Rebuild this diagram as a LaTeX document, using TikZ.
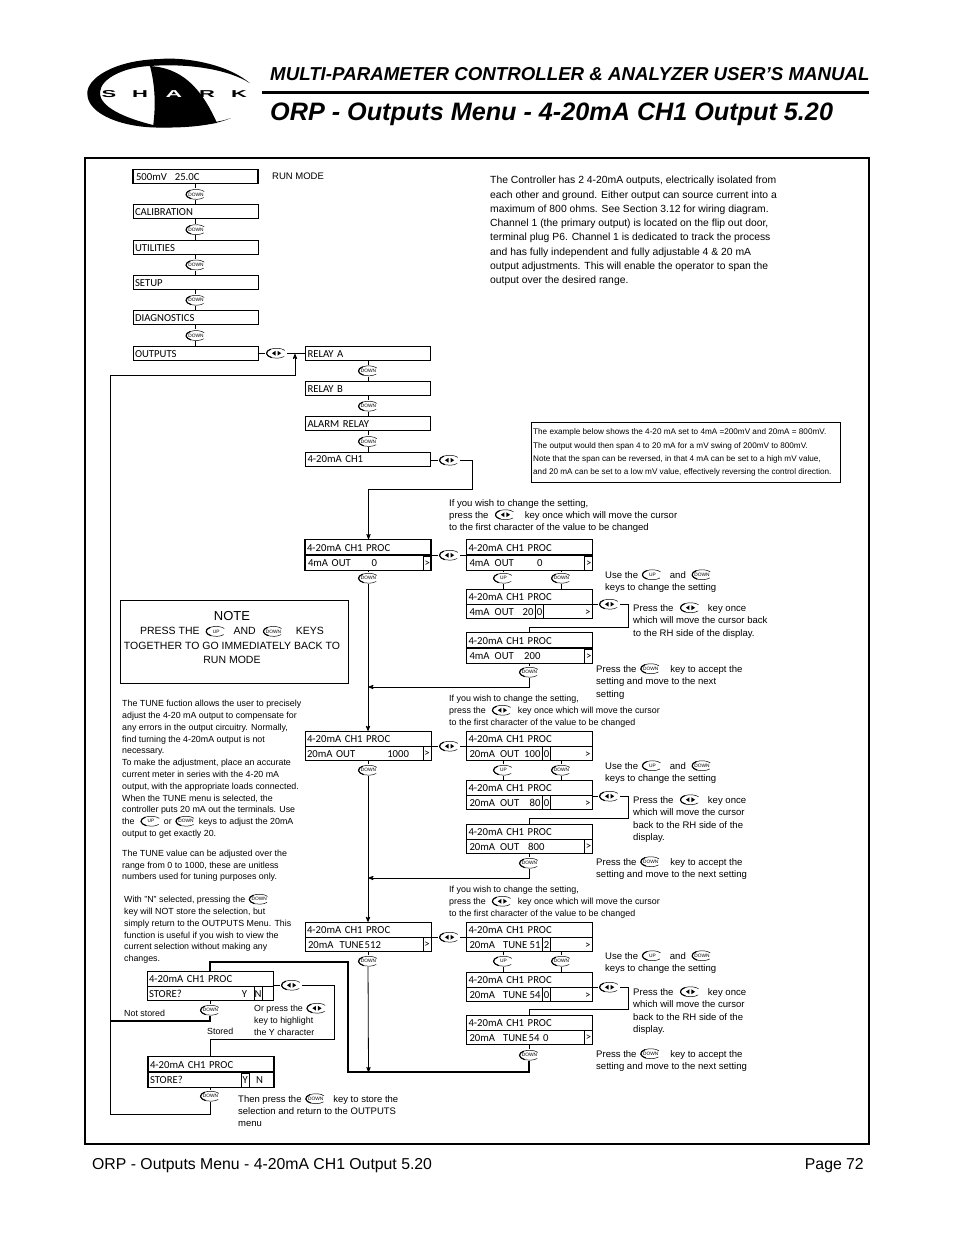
\documentclass[tikz,border=0pt]{standalone}
\usepackage{fontspec}
\setmainfont{Liberation Sans}
\newfontfamily\lcdfont{Carlito}
\usetikzlibrary{calc,positioning,arrows,shapes.multipart}

\newcommand{\keyface}[1]{\tikz[baseline=-3.4pt,x=1pt,y=1pt]{%
  \path (-10.5,-5.5) rectangle (10.5,5.5);
  \draw[line width=.5pt] (35:10 and 5) arc[start angle=35,end angle=320,x radius=10,y radius=5];
  \draw[line width=1.1pt] (125:10 and 5) arc[start angle=125,end angle=240,x radius=10,y radius=5];
  #1}}
\newcommand{\downkey}{\keyface{\node[anchor=center,align=center,inner sep=0,font=\fontsize{4.8}{5}\selectfont] (dn) {DOWN};}}
\newcommand{\upkey}{\keyface{\node[anchor=center,align=center,inner sep=0,font=\fontsize{4.8}{5}\selectfont] (up) {UP};}}
\newcommand{\lrkey}{\keyface{\fill (-4.6,0) -- (-1,2.4) -- (-1,-2.4) -- cycle;
  \fill (4.6,0) -- (1,2.4) -- (1,-2.4) -- cycle;}}
\newcommand{\lcdstrut}{\rule[-3pt]{0pt}{14pt}}
\newcommand{\twoline}[2]{\lcdstrut #1\nodepart{two}\lcdstrut #2}
\newcommand{\valrow}[3]{\rlap{#1}\hspace*{#2pt}\llap{#3}}
\newcommand{\gtmark}{\hfill>\hspace*{1pt}}

\tikzset{
  lcd/.style={rectangle,draw=black,line width=.8pt,text width=121pt,inner xsep=2pt,inner ysep=0pt,
    font=\lcdfont\fontsize{10.7}{11}\selectfont},
  lcdtwo/.style={lcd,rectangle split,rectangle split parts=2,text width=122pt},
  heavy/.style={line width=1.3pt},
  cell/.style={rectangle,draw=black,line width=.8pt,inner sep=0pt,minimum width=8pt,minimum height=14pt,
    anchor=south east,font=\lcdfont\fontsize{10.7}{11}\selectfont},
  key/.style={rectangle,inner sep=0pt},
  wire/.style={line width=.8pt},
  flow/.style={wire,->,>=stealth'},
  txt/.style={anchor=north west,inner sep=0pt,align=left,font=\fontsize{9.55}{12.5}\selectfont},
  ifyou/.style={txt,font=\fontsize{8.9}{12}\selectfont},
  smalltxt/.style={txt,font=\fontsize{8.85}{11.8}\selectfont},
  logoletter/.style={inner sep=0pt,font=\bfseries\fontsize{10}{10}\selectfont}
}

\begin{document}
\begin{tikzpicture}[x=1pt,y=-1pt,node distance=35.3pt]
  \useasboundingbox (0,0) rectangle (954,1235);

  % logo
  \fill (250,83.3) .. controls (225,62) and (180,57) .. (160,59) .. controls (115,60) and (87,78) .. (87.3,93.3)
    .. controls (87,115) and (125,128) .. (160,127.5) .. controls (190,128) and (215,125) .. (231,118)
    .. controls (215,124) and (190,125) .. (153,125) .. controls (125,118) and (99,107) .. (100,92)
    .. controls (101,78) and (125,67) .. (150,66) .. controls (190,63) and (230,70) .. (250,83.3) -- cycle;
  \fill (150,66) .. controls (180,68) and (200,85) .. (217,123) -- (170,127) -- (153,127)
    .. controls (156,105) and (155,85) .. (150,66) -- cycle;
  \node[logoletter] (logos) at (109,94) {\scalebox{2.2}[1]{S}};
  \node[logoletter] (logoh) at (140,94) {\scalebox{2.2}[1]{H}};
  \node[logoletter,text=white] (logoa) at (174,94) {\scalebox{2.3}[1]{A}};
  \node[logoletter] (logor) at (207,94) {\scalebox{2.2}[1]{R}};
  \node[logoletter] (logok) at (239,94) {\scalebox{2.2}[1]{K}};

  % header and footer
  \node[anchor=base west,inner sep=0pt,font=\bfseries\itshape\fontsize{18.7}{20}\selectfont] (manual) at (270,80)
    {MULTI-PARAMETER CONTROLLER \& ANALYZER USER’S MANUAL};
  \draw[line width=3pt] (262,92.5) -- (869,92.5);
  \node[anchor=base west,inner sep=0pt,font=\bfseries\itshape\fontsize{25.2}{27}\selectfont] (title) at (270,120)
    {ORP - Outputs Menu - 4-20mA CH1 Output 5.20};
  \draw[line width=2pt] (85,158) rectangle (869,1144);
  \node[anchor=base west,inner sep=0pt,font=\fontsize{15.8}{17}\selectfont] (foot) at (92,1169)
    {ORP - Outputs Menu - 4-20mA CH1 Output 5.20};
  \node[anchor=base east,inner sep=0pt,font=\fontsize{15.8}{17}\selectfont] (page) at (864,1169) {Page 72};

  % main menu column
  \node[lcd,heavy] (run) at (195.5,176.5) {\lcdstrut\hspace*{1pt}500mV\hspace{8pt}25.0C};
  \node[lcd] (cal)   [below of=run]   {\lcdstrut CALIBRATION};
  \node[lcd] (util)  [below of=cal]   {\lcdstrut UTILITIES};
  \node[lcd] (setup) [below of=util]  {\lcdstrut SETUP};
  \node[lcd] (diag)  [below of=setup] {\lcdstrut DIAGNOSTICS};
  \node[lcd] (outs)  [below of=diag]  {\lcdstrut OUTPUTS};
  \node[key] (kone)   at ($(run)!.5!(cal)$)    {\downkey};
  \node[key] (ktwo)   at ($(cal)!.5!(util)$)   {\downkey};
  \node[key] (kthree) at ($(util)!.5!(setup)$) {\downkey};
  \node[key] (kfour)  at ($(setup)!.5!(diag)$) {\downkey};
  \node[key] (kfive)  at ($(diag)!.5!(outs)$)  {\downkey};
  \node[txt,font=\fontsize{9.5}{11}\selectfont] (runmode) at (272,173) {RUN MODE};

  % outputs column
  \node[lcd] (relaya) [right of=outs,node distance=172.5pt] {\lcdstrut RELAY A};
  \node[lcd,heavy] (relayb) [below of=relaya] {\lcdstrut RELAY B};
  \node[lcd] (alarm)  [below of=relayb] {\lcdstrut ALARM RELAY};
  \node[lcd] (chone)  [below of=alarm]  {\lcdstrut 4-20mA CH1};
  \node[key] (ksix)   at ($(relaya)!.5!(relayb)$) {\downkey};
  \node[key] (kseven) at ($(relayb)!.5!(alarm)$)  {\downkey};
  \node[key] (keight) at ($(alarm)!.5!(chone)$)   {\downkey};
  \node[key] (klrout) at (276,353) {\lrkey};
  \node[key] (klrch)  at (449,460) {\lrkey};
  \coordinate (chturn) at (472,489);

  % 4mA row
  \node[lcdtwo,heavy] (fourl) at (368,555) {\twoline{4-20mA CH1 PROC}{\valrow{\hspace*{1pt}4mA OUT}{70}{0}}};
  \node[lcdtwo,heavy] (foura) [right of=fourl,node distance=161.5pt] {\twoline{4-20mA CH1 PROC}{\valrow{\hspace*{1pt}4mA\hspace{5pt}OUT}{74}{0}}};
  \node[lcdtwo] (fourb) [below of=foura,node distance=49pt] {\twoline{4-20mA CH1 PROC}{\valrow{\hspace*{1pt}4mA\hspace{5pt}OUT}{65}{20}\gtmark}};
  \node[lcdtwo,heavy] (fourc) [below of=fourb,node distance=44pt] {\twoline{4-20mA CH1 PROC}{\valrow{\hspace*{1pt}4mA\hspace{5pt}OUT}{72}{200}}};
  \node[cell] (gtfourl) at (fourl.south east) {>};
  \node[cell] (gtfoura) at (foura.south east) {>};
  \node[cell] (gtfourc) at (fourc.south east) {>};
  \node[cell] (curfour) at ([xshift=-49pt]fourb.south east) {0};
  \node[key] (kdnfourl) at (368,578) {\downkey};
  \node[key] (klrfour)  [right of=fourl,node distance=81pt] {\lrkey};
  \node[key] (kupfour)  at (503,578) {\upkey};
  \node[key] (kdnfour)  at (561,578) {\downkey};
  \node[key] (klrfourb) at (609,604) {\lrkey};
  \node[key] (kdnfourc) at (529,672) {\downkey};
  \coordinate (fourturn) at (628,627);
  \coordinate (fourback) at (368.5,687);

  % 20mA row
  \node[lcdtwo] (twentyl) [below of=fourl,node distance=191pt] {\twoline{4-20mA CH1 PROC}{\valrow{20mA OUT}{102}{1000}}};
  \node[lcdtwo] (twentya) [right of=twentyl,node distance=161.5pt] {\twoline{4-20mA CH1 PROC}{\valrow{\hspace*{1pt}20mA\hspace{5pt}OUT}{72}{100}\gtmark}};
  \node[lcdtwo] (twentyb) [below of=twentya,node distance=49pt] {\twoline{4-20mA CH1 PROC}{\valrow{\hspace*{1pt}20mA\hspace{5pt}OUT}{72}{80}\gtmark}};
  \node[lcdtwo] (twentyc) [below of=twentyb,node distance=44pt] {\twoline{4-20mA CH1 PROC}{\valrow{\hspace*{1pt}20mA\hspace{5pt}OUT}{76}{800}}};
  \node[cell] (gttwentyl) at (twentyl.south east) {>};
  \node[cell] (gttwentyc) at (twentyc.south east) {>};
  \node[cell] (curtwa) at ([xshift=-42pt]twentya.south east) {0};
  \node[cell] (curtwb) at ([xshift=-42pt]twentyb.south east) {0};
  \node[key] (kdntwentyl) at (368,770) {\downkey};
  \node[key] (klrtwenty)  [right of=twentyl,node distance=81pt] {\lrkey};
  \node[key] (kuptwenty)  at (503,770) {\upkey};
  \node[key] (kdntwenty)  at (561,770) {\downkey};
  \node[key] (klrtwentyb) at (609,796) {\lrkey};
  \node[key] (kdntwentyc) at (529,863) {\downkey};
  \coordinate (twturn) at (628,818);
  \coordinate (twback) at (368.5,878);

  % tune row
  \node[lcdtwo] (tunel) [below of=twentyl,node distance=191pt] {\twoline{4-20mA CH1 PROC}{\valrow{\hspace*{1pt}20mA\hspace{6pt}TUNE}{74}{512}}};
  \node[lcdtwo] (tunea) [right of=tunel,node distance=161.5pt] {\twoline{4-20mA CH1 PROC}{\valrow{\hspace*{1pt}20mA\hspace{8pt}TUNE}{72}{51}\gtmark}};
  \node[lcdtwo] (tuneb) [below of=tunea,node distance=50pt] {\twoline{4-20mA CH1 PROC}{\valrow{\hspace*{1pt}20mA\hspace{8pt}TUNE}{72}{54}\gtmark}};
  \node[lcdtwo] (tunec) [below of=tuneb,node distance=43pt] {\twoline{4-20mA CH1 PROC}{\valrow{\hspace*{1pt}20mA\hspace{8pt}TUNE}{80}{54 0}}};
  \node[cell] (gttunel) at (tunel.south east) {>};
  \node[cell] (gttunec) at (tunec.south east) {>};
  \node[cell] (curtua) at ([xshift=-42pt]tunea.south east) {2};
  \node[cell] (curtub) at ([xshift=-42pt]tuneb.south east) {0};
  \node[key] (kdntunel) at (368,961) {\downkey};
  \node[key] (klrtune)  [right of=tunel,node distance=81pt] {\lrkey};
  \node[key] (kuptune)  at (503,961) {\upkey};
  \node[key] (kdntune)  at (561,961) {\downkey};
  \node[key] (klrtuneb) at (609,987) {\lrkey};
  \node[key] (kdntunec) at (529,1055) {\downkey};
  \coordinate (tuturn) at (628,1009);
  \coordinate (tuback) at (368.5,1072);
  \coordinate (tuleft) at (348,1072);
  \coordinate (tutop) at (348,962);

  % store boxes
  \node[lcdtwo] (storen) at (210,986) {\twoline{4-20mA CH1 PROC}{\valrow{STORE?}{98}{Y}}};
  \node[lcdtwo,heavy] (storey) at (211,1072) {\twoline{4-20mA CH1 PROC}{\valrow{STORE?}{113}{N}}};
  \node[cell] (curn) at ([xshift=-11pt]storen.south east) {N};
  \node[cell] (cury) at ([xshift=-25pt]storey.south east) {Y};
  \node[key] (klrstore) at (291,985) {\lrkey};
  \node[key] (kdnn) at (210,1010) {\downkey};
  \node[key] (kdny) at (210,1096) {\downkey};
  \coordinate (stturn) at (334,1039);
  \coordinate (stmid) at (210,1039);
  \coordinate (notst) at (110,1021);
  \coordinate (backb) at (110,1114);
  \coordinate (backt) at (110,375);
  \coordinate (backup) at (295,354);

  % connectors
  \draw[wire] (run) -- (kone) -- (cal) -- (ktwo) -- (util) -- (kthree) -- (setup) -- (kfour) -- (diag) -- (kfive) -- (outs);
  \draw[wire] (relaya) -- (ksix) -- (relayb) -- (kseven) -- (alarm) -- (keight) -- (chone);
  \draw[wire] (outs) -- (klrout) -- (relaya);
  \draw[wire] (chone.east |- klrch) -- (klrch);
  \draw[flow] (klrch) -| (chturn) -| ([xshift=.5pt]fourl.north);
  \draw[wire] (fourl.east |- klrfour) -- (klrfour) -- (foura.west |- klrfour);
  \draw[wire] (foura.south -| kupfour) -- (kupfour) -- (kupfour |- fourb.north);
  \draw[wire] (foura.south -| kdnfour) -- (kdnfour) -- (kdnfour |- fourb.north);
  \draw[wire] (fourb.east |- klrfourb) -- (klrfourb) -| (fourturn) -| (kdnfourc |- fourc.north);
  \draw[wire] (kdnfourc |- fourc.south) -- (kdnfourc);
  \draw[flow] (kdnfourc) |- (fourback);
  \draw[wire] (fourl) -- (kdnfourl);
  \draw[flow] (kdnfourl) -- (twentyl.north -| kdnfourl);
  \draw[wire] (twentyl.east |- klrtwenty) -- (klrtwenty) -- (twentya.west |- klrtwenty);
  \draw[wire] (twentya.south -| kuptwenty) -- (kuptwenty) -- (kuptwenty |- twentyb.north);
  \draw[wire] (twentya.south -| kdntwenty) -- (kdntwenty) -- (kdntwenty |- twentyb.north);
  \draw[wire] (twentyb.east |- klrtwentyb) -- (klrtwentyb) -| (twturn) -| (kdntwentyc |- twentyc.north);
  \draw[wire] (kdntwentyc |- twentyc.south) -- (kdntwentyc);
  \draw[flow] (kdntwentyc) |- (twback);
  \draw[wire] (twentyl) -- (kdntwentyl);
  \draw[flow] (kdntwentyl) -- (tunel.north -| kdntwentyl);
  \draw[wire] (tunel.east |- klrtune) -- (klrtune) -- (tunea.west |- klrtune);
  \draw[wire] (tunea.south -| kuptune) -- (kuptune) -- (kuptune |- tuneb.north);
  \draw[wire] (tunea.south -| kdntune) -- (kdntune) -- (kdntune |- tuneb.north);
  \draw[wire] (tuneb.east |- klrtuneb) -- (klrtuneb) -| (tuturn) -| (kdntunec |- tunec.north);
  \draw[wire] (kdntunec |- tunec.south) -- (kdntunec);
  \draw[wire,line width=1.1pt] (kdntunec) |- (tuleft) -- (tutop) -| (kdnn |- storen.north);
  \draw[wire] (tunel) -- (kdntunel);
  \draw[flow] (kdntunel) -- (tuback);
  \draw[wire] (storen.east |- klrstore) -- (klrstore) -| (stturn) -- (stmid) -- (storey.north -| stmid);
  \draw[wire] (storen) -- (kdnn);
  \draw[wire,line width=1.5pt] (kdnn) |- (notst);
  \draw[wire] (storey.south -| kdny) -- (kdny);
  \draw[flow] (kdny) |- (backb) -- (backt) -| (backup);

  % notes
  \node[txt,font=\fontsize{10.36}{14.3}\selectfont] (intro) at (490,176) {The Controller has 2 4-20mA outputs, electrically isolated from\\
    each other and ground. Either output can source current into a\\
    maximum of 800 ohms. See Section 3.12 for wiring diagram.\\
    Channel 1 (the primary output) is located on the flip out door,\\
    terminal plug P6. Channel 1 is dedicated to track the process\\
    and has fully independent and fully adjustable 4 \& 20 mA\\
    output adjustments. This will enable the operator to span the\\
    output over the desired range.};
  \node[draw=black,line width=.8pt,minimum width=309pt,minimum height=60pt,inner sep=0pt] (examplebox) at (685.5,452) {};
  \node[txt,font=\fontsize{8.16}{13.4}\selectfont] (exampletxt) at (533,428.5) {The example below shows the 4-20 mA set to 4mA =200mV and 20mA = 800mV.\\
    The output would then span 4 to 20 mA for a mV swing of 200mV to 800mV.\\
    Note that the span can be reversed, in that 4 mA can be set to a high mV value,\\
    and 20 mA can be set to a low mV value, effectively reversing the control direction.};

  \node[draw=black,line width=.8pt,minimum width=228pt,minimum height=83pt,inner sep=0pt] (notebox) at (234,641.5) {};
  \node[inner sep=0pt,align=center,anchor=north,font=\fontsize{10.5}{14.5}\selectfont] (notetxt) at (232,611)
    {{\fontsize{13}{14.5}\selectfont NOTE}\\
    PRESS THE \hspace{2pt}\smash{\upkey}\hspace{7pt}AND\hspace{6pt}\smash{\downkey}\hspace{12pt}KEYS\\
    TOGETHER TO GO IMMEDIATELY BACK TO\\
    RUN MODE};

  \node[smalltxt] (tunetxt) at (122,700) {The TUNE fuction allows the user to precisely\\
    adjust the 4-20 mA output to compensate for\\
    any errors in the output circuitry. Normally,\\
    find turning the 4-20mA output is not\\
    necessary.\\
    To make the adjustment, place an accurate\\
    current meter in series with the 4-20 mA\\
    output, with the appropriate loads connected.\\
    When the TUNE menu is selected, the\\
    controller puts 20 mA out the terminals. Use\\
    the \ \smash{\upkey} or \smash{\downkey} keys to adjust the 20mA\\
    output to get exactly 20.\\[8pt]
    The TUNE value can be adjusted over the\\
    range from 0 to 1000, these are unitless\\
    numbers used for tuning purposes only.};
  \node[smalltxt] (withn) at (124,896) {With "N" selected, pressing the \smash{\downkey}\\
    key will NOT store the selection, but\\
    simply return to the OUTPUTS Menu. This\\
    function is useful if you wish to view the\\
    current selection without making any\\
    changes.};
  \node[smalltxt] (notstored) at (124,1010) {Not stored};
  \node[smalltxt] (stored) at (207,1028) {Stored};
  \node[smalltxt] (orpress) at (254,1005) {Or press the \smash{\lrkey}\\
    key to highlight\\
    the Y character};
  \node[txt,font=\fontsize{9.5}{12}\selectfont] (thenpress) at (238,1095) {Then press the \smash{\downkey}\hspace{7pt}key to store the\\
    selection and return to the OUTPUTS\\
    menu};

  \node[ifyou,font=\fontsize{9.55}{12}\selectfont] (ifone) at (449,499) {If you wish to change the setting,\\
    press the \ \smash{\lrkey}\hspace{9pt}key once which will move the cursor\\
    to the first character of the value to be changed};
  \node[ifyou] (iftwo) at (449,695) {If you wish to change the setting,\\
    press the \ \smash{\lrkey}\ \ key once which will move the cursor\\
    to the first character of the value to be changed};
  \node[ifyou] (ifthree) at (449,886) {If you wish to change the setting,\\
    press the \ \smash{\lrkey}\ \ key once which will move the cursor\\
    to the first character of the value to be changed};

  \node[txt] (useone) at (605,571) {Use the \smash{\upkey}\hspace{7pt}and \hspace{2pt}\smash{\downkey}\\ keys to change the setting};
  \node[txt] (usetwo) at (605,762) {Use the \smash{\upkey}\hspace{7pt}and \hspace{2pt}\smash{\downkey}\\ keys to change the setting};
  \node[txt] (usethree) at (605,952) {Use the \smash{\upkey}\hspace{7pt}and \hspace{2pt}\smash{\downkey}\\ keys to change the setting};
  \node[txt] (pressone) at (633,604) {Press the \ \smash{\lrkey}\hspace{7pt}key once\\
    which will move the cursor back\\
    to the RH side of the display.};
  \node[txt] (presstwo) at (633,796) {Press the \ \smash{\lrkey}\hspace{7pt}key once\\
    which will move the cursor\\
    back to the RH side of the\\
    display.};
  \node[txt] (pressthree) at (633,988) {Press the \ \smash{\lrkey}\hspace{7pt}key once\\
    which will move the cursor\\
    back to the RH side of the\\
    display.};
  \node[txt] (acceptone) at (596,665) {Press the \smash{\downkey}\hspace{9pt}key to accept the\\
    setting and move to the next\\
    setting};
  \node[txt] (accepttwo) at (596,858) {Press the \smash{\downkey}\hspace{9pt}key to accept the\\
    setting and move to the next setting};
  \node[txt] (acceptthree) at (596,1050) {Press the \smash{\downkey}\hspace{9pt}key to accept the\\
    setting and move to the next setting};
\end{tikzpicture}
\end{document}
